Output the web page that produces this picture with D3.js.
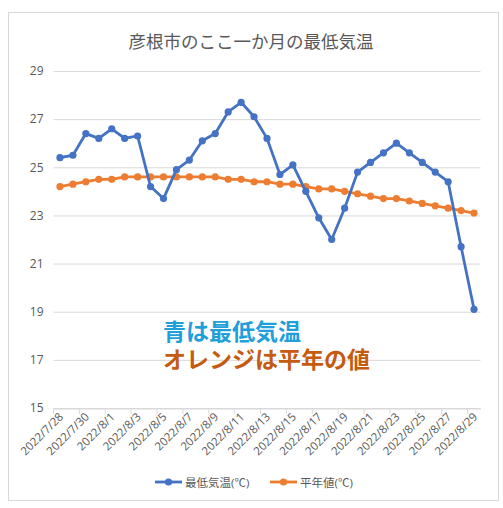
<!DOCTYPE html>
<html><head><meta charset="utf-8">
<script src="https://cdn.jsdelivr.net/npm/d3@7"></script>
<style>
html,body{margin:0;padding:0;background:#fff;}
svg{display:block;}
text{font-family:"Open Sans","Noto Sans CJK JP",sans-serif;}
</style></head>
<body>
<svg id="chart" width="503" height="508"></svg>
<script>
const dates = ["2022/7/28","2022/7/29","2022/7/30","2022/7/31","2022/8/1","2022/8/2","2022/8/3","2022/8/4","2022/8/5","2022/8/6","2022/8/7","2022/8/8","2022/8/9","2022/8/10","2022/8/11","2022/8/12","2022/8/13","2022/8/14","2022/8/15","2022/8/16","2022/8/17","2022/8/18","2022/8/19","2022/8/20","2022/8/21","2022/8/22","2022/8/23","2022/8/24","2022/8/25","2022/8/26","2022/8/27","2022/8/28","2022/8/29"];
const minTemp = [25.4,25.5,26.4,26.2,26.6,26.2,26.3,24.2,23.7,24.9,25.3,26.1,26.4,27.3,27.7,27.1,26.2,24.7,25.1,24.0,22.9,22.0,23.3,24.8,25.2,25.6,26.0,25.6,25.2,24.8,24.4,21.7,19.1];
const normalTemp = [24.2,24.3,24.4,24.5,24.5,24.6,24.6,24.6,24.6,24.6,24.6,24.6,24.6,24.5,24.5,24.4,24.4,24.3,24.3,24.2,24.1,24.1,24.0,23.9,23.8,23.7,23.7,23.6,23.5,23.4,23.3,23.2,23.1];
const yTicks = [15,17,19,21,23,25,27,29];
const seriesNames = ["最低気温(℃)","平年値(℃)"];
const title = "彦根市のここ一か月の最低気温";
const noteLines = ["青は最低気温","オレンジは平年の値"];

const svg = d3.select("#chart");
const blue = "#4472C4", orange = "#ED7D31";

svg.append("rect").attr("x",8.5).attr("y",12.5).attr("width",490).attr("height",488)
  .attr("fill","#fff").attr("stroke","#d9d9d9");

const x = d3.scaleBand().domain(dates).range([53.5,480.5]);
const y = d3.scaleLinear().domain([15,29]).range([408,71]);
const cx = d => x(d) + x.bandwidth()/2;

svg.append("text").attr("x",251).attr("y",48).attr("text-anchor","middle")
  .attr("fill","#595959").style("font-size","17.5px").text(title);

// grid
const yAxis = svg.append("g").attr("transform","translate(53.5,0)")
  .call(d3.axisLeft(y).tickValues(yTicks).tickSize(-427).tickPadding(10));
yAxis.select(".domain").remove();
yAxis.selectAll("line").attr("stroke","#d9d9d9").attr("stroke-width",1);
yAxis.selectAll("text").attr("fill","#595959").style("font-size","12px").attr("dx","0");

// x axis
const tickDates = dates.filter((d,i)=>i%2===0);
const xAxis = svg.append("g").attr("transform","translate(0,408.5)")
  .call(d3.axisBottom(x).tickValues(tickDates).tickSize(0).tickPadding(0));
xAxis.select(".domain").attr("stroke","#d9d9d9");
xAxis.selectAll("text").attr("fill","#595959").style("font-size","11.5px")
  .attr("text-anchor","end").attr("dy",0)
  .attr("transform", d => `translate(4,9) rotate(-45)`);
// tick marks at category boundaries
const boundaries = d3.range(0, dates.length+1, 2).map(i => 53.5 + i*x.bandwidth());
svg.append("g").selectAll("line").data(boundaries).join("line")
  .attr("x1",d=>d).attr("x2",d=>d).attr("y1",408.5).attr("y2",414)
  .attr("stroke","#d9d9d9");

function drawSeries(vals, color){
  const line = d3.line().x((v,i)=>cx(dates[i])).y(v=>y(v));
  svg.append("path").datum(vals).attr("d",line).attr("fill","none")
    .attr("stroke",color).attr("stroke-width",2.8).attr("stroke-linejoin","round");
  svg.append("g").selectAll("circle").data(vals).join("circle")
    .attr("cx",(v,i)=>cx(dates[i])).attr("cy",v=>y(v)).attr("r",3.6).attr("fill",color);
}
drawSeries(normalTemp, orange);
drawSeries(minTemp, blue);

// notes
svg.append("text").attr("x",163).attr("y",340).attr("fill","#1FA0DA")
  .style("font-size","23px").style("font-weight","bold").style("font-family","'Noto Sans CJK JP',sans-serif").text(noteLines[0]);
svg.append("text").attr("x",163).attr("y",368).attr("fill","#C55A11")
  .style("font-size","23px").style("font-weight","bold").style("font-family","'Noto Sans CJK JP',sans-serif").text(noteLines[1]);

// legend
const legend = [{name:seriesNames[0],color:blue,x:155},{name:seriesNames[1],color:orange,x:270}];
const lg = svg.append("g");
legend.forEach(l=>{
  lg.append("line").attr("x1",l.x).attr("x2",l.x+27).attr("y1",482).attr("y2",482)
    .attr("stroke",l.color).attr("stroke-width",2.8);
  lg.append("circle").attr("cx",l.x+13.5).attr("cy",482).attr("r",3.6).attr("fill",l.color);
  lg.append("text").attr("x",l.x+30).attr("y",486.5).attr("fill","#595959")
    .style("font-size","11.5px").text(l.name);
});
</script>
</body></html>
